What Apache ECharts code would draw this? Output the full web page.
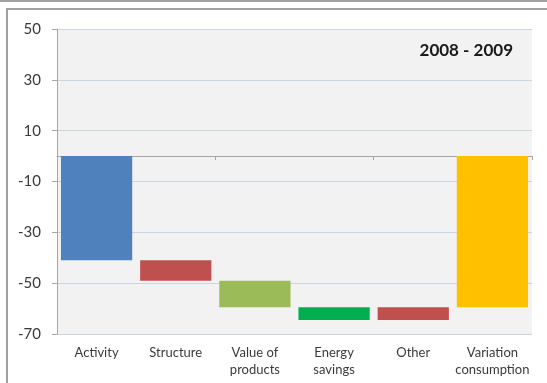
<!DOCTYPE html>
<html>
<head>
<meta charset="utf-8">
<script src="https://cdn.jsdelivr.net/npm/echarts@6/dist/echarts.min.js"></script>
<style>
  html, body { margin: 0; padding: 0; background: #ffffff; }
  #chart { width: 547px; height: 383px; }
</style>
</head>
<body>
<div id="chart"></div>
<script>
// Decomposition of the change in consumption, 2008 - 2009
const categories = ['Activity', 'Structure', 'Value of\nproducts', 'Energy\nsavings', 'Other', 'Variation\nconsumption'];
const changes = [-41, -8, -10.5, -5, 5];          // contribution of each effect
const barColors = ['#4F81BD', '#C0504D', '#9BBB59', '#00B050', '#C0504D', '#FFC000'];
const yTicks = { min: -70, max: 50, step: 20 };
const periodLabel = '2008 - 2009';

// Build floating segments [index, start, end]: each effect starts where the previous ended,
// the last bar is the total variation measured from zero.
const segments = [];
let running = 0;
changes.forEach((c, i) => {
  segments.push([i, running, running + c]);
  running += c;
});
segments.push([changes.length, 0, running]);

const chart = echarts.init(document.getElementById('chart'));
const fontFamily = 'Lato, "Open Sans", sans-serif';

chart.setOption({
  animation: false,
  backgroundColor: '#ffffff',
  title: {
    text: periodLabel,
    right: 29,
    top: 37,
    textStyle: { fontFamily: fontFamily, fontSize: 17, fontWeight: 'bold', color: '#1a1a1a' }
  },
  grid: {
    left: 57, right: 15, top: 29, bottom: 49,
    show: true, backgroundColor: '#F2F2F2', borderWidth: 0
  },
  xAxis: [
    {
      // axis line drawn along zero, with boundary ticks
      type: 'category',
      data: categories,
      axisLine: { show: true, onZero: true, lineStyle: { color: '#A6A6A6', width: 1 } },
      axisTick: { show: true, length: 4, lineStyle: { color: '#A6A6A6' } },
      axisLabel: { show: false },
      splitLine: { show: false }
    },
    {
      // category names along the bottom of the plot
      type: 'category',
      data: categories,
      position: 'bottom',
      axisLine: { show: false, onZero: false },
      axisTick: { show: false },
      axisLabel: { margin: 10, lineHeight: 17, interval: 0, fontFamily: fontFamily, fontSize: 13, color: '#3a3a3a' },
      splitLine: { show: false }
    }
  ],
  yAxis: {
    type: 'value',
    min: yTicks.min,
    max: yTicks.max,
    interval: yTicks.step,
    axisLine: { show: true, lineStyle: { color: '#A6A6A6' } },
    axisTick: { show: true, length: 5, lineStyle: { color: '#A6A6A6' } },
    axisLabel: { margin: 16, fontFamily: fontFamily, fontSize: 15, color: '#3a3a3a' },
    splitLine: { show: true, lineStyle: { color: '#CDD5E2', width: 1 } }
  },
  series: [{
    type: 'custom',
    xAxisIndex: 0,
    data: segments,
    encode: { x: 0, y: [1, 2] },
    renderItem: function (params, api) {
      const idx = api.value(0);
      const p1 = api.coord([idx, api.value(1)]);
      const p2 = api.coord([idx, api.value(2)]);
      const band = api.size([1, 0])[0];
      const w = band * 0.9;
      const rect = echarts.graphic.clipRectByRect({
        x: p1[0] - w / 2,
        y: Math.min(p1[1], p2[1]),
        width: w,
        height: Math.abs(p2[1] - p1[1])
      }, params.coordSys);
      return rect && {
        type: 'rect',
        shape: rect,
        style: { fill: barColors[idx] }
      };
    }
  }],
  graphic: [
    { type: 'line', silent: true, shape: { x1: 0, y1: 1, x2: 547, y2: 1 }, style: { stroke: '#A0A0A0', lineWidth: 2 } },
    { type: 'line', silent: true, shape: { x1: 6, y1: 9, x2: 547, y2: 9 }, style: { stroke: '#A0A0A0', lineWidth: 2 } },
    { type: 'line', silent: true, shape: { x1: 7, y1: 9, x2: 7, y2: 383 }, style: { stroke: '#A0A0A0', lineWidth: 2 } }
  ]
});
</script>
</body>
</html>
